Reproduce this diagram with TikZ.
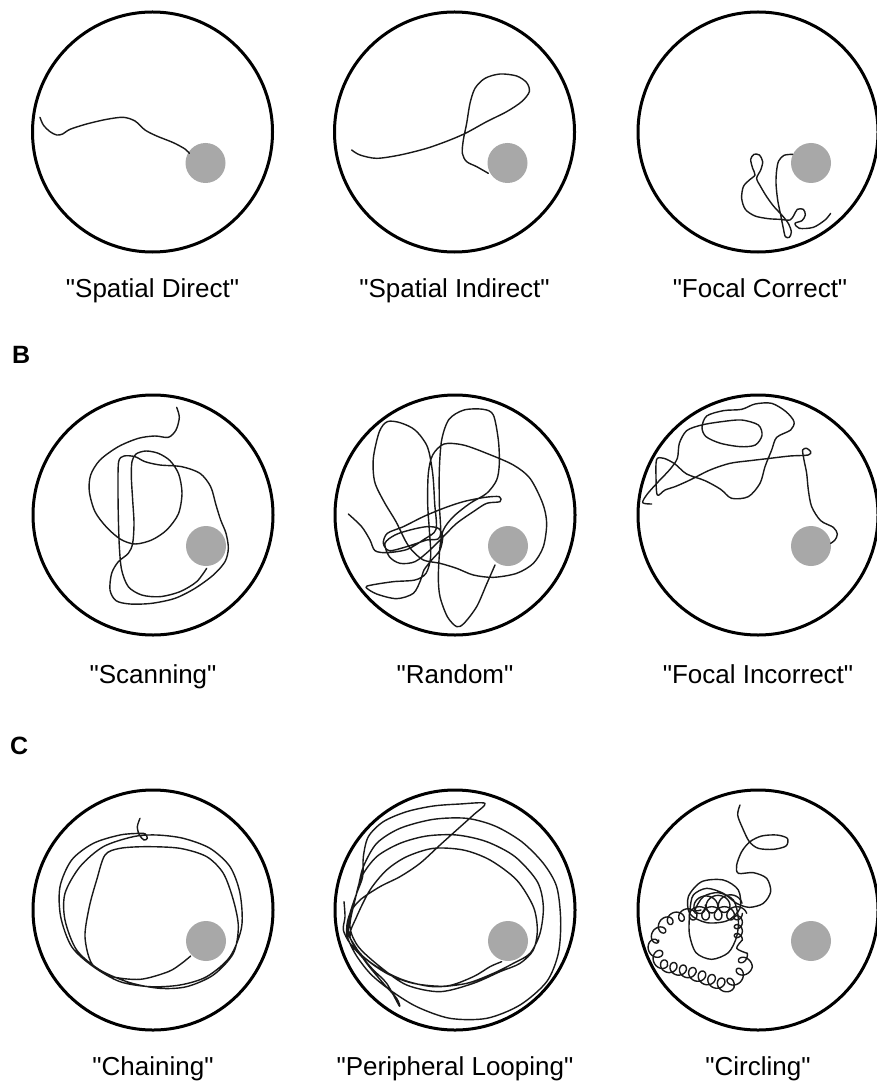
\documentclass[tikz,border=0pt]{standalone}
\usepackage{fontspec}
\newfontfamily\labfont{Liberation Sans}
\definecolor{goalgray}{RGB}{168,168,168}
\tikzset{
  arena/.style={draw=black,line width=3pt},
  goal/.style={fill=goalgray,draw=none},
  track/.style={draw=black!90,line width=1.4pt,line join=round,line cap=round},
  lab/.style={anchor=base,inner sep=0pt,font=\labfont\fontsize{26}{30}\selectfont},
  panel/.style={anchor=base west,inner sep=0pt,font=\labfont\fontsize{25}{30}\selectfont\bfseries}
}
\newcommand\loopchain[6]{\draw[track] plot[smooth,samples=81,domain=0:1,variable=\s] ({#1+(#3-#1)*\s+#6*cos(360*#5*\s)},{#2+(#4-#2)*\s+#6*sin(360*#5*\s)});}
\begin{document}
\begin{tikzpicture}[x=1pt,y=-1pt]
\useasboundingbox[fill=white] (0,0) rectangle (876,1083);

% arenas and goals
\foreach \cx/\cy in {152.5/132,454.5/132,758/132,153/515,455/515,758/515,153/910,455/910,758/910}{
  \draw[arena] (\cx,\cy) circle[radius=120pt];
  \fill[goal] (\cx+53,\cy+31) circle[radius=20pt];
}

% labels
\node[lab] (l1) at (152.5,297) {"Spatial Direct"};
\node[lab] (l2) at (454.5,297) {"Spatial Indirect"};
\node[lab] (l3) at (760,297) {"Focal Correct"};
\node[lab] (l4) at (153,683) {"Scanning"};
\node[lab] (l5) at (455,683) {"Random"};
\node[lab] (l6) at (758,683) {"Focal Incorrect"};
\node[lab] (l7) at (153,1075) {"Chaining"};
\node[lab] (l8) at (455,1075) {"Peripheral Looping"};
\node[lab] (l9) at (758,1075) {"Circling"};
\node[panel] (pB) at (12,363) {B};
\node[panel] (pC) at (10,754) {C};

% 1 Spatial Direct
\begin{scope}[shift={(0,0)},scale=1/3]
\draw[track] plot[smooth] coordinates {(120,352) (130,375) (150,395) (170,405) (188,402) (210,388) (260,372) (320,358) (370,352) (405,363) (435,390) (470,408) (520,428) (555,447) (568,460)};
\end{scope}

% 2 Spatial Indirect
\begin{scope}[shift={(300,0)},scale=1/3]
\draw[track] plot[smooth] coordinates {(155,450) (180,465) (230,475) (300,465) (380,445) (450,420) (500,398) (560,365) (620,335) (665,305) (688,275) (680,248) (650,228) (600,222) (555,235) (525,265) (510,310) (500,370) (490,420) (487,460) (500,485) (530,500) (565,520)};
\end{scope}

% 3 Focal Correct
\begin{scope}[shift={(590,0)},scale=1/3]
\draw[track] plot[smooth] coordinates {(608,463) (582,466) (566,483) (560,510) (558,550) (563,600) (572,645) (580,685) (586,710) (598,712) (604,696) (596,672) (578,648) (552,620) (530,590) (512,560) (500,535) (512,510) (518,485) (508,465) (492,463) (482,478) (488,505) (495,525) (478,540) (460,560) (455,595) (466,628) (495,648) (535,656) (568,658) (600,660) (612,645) (622,628) (640,628) (646,645) (636,662) (615,670) (628,685) (670,682) (705,660) (722,640)};
\end{scope}

% 4 Scanning
\begin{scope}[shift={(0,330)},scale=1/3]
\draw[track] plot[smooth] coordinates {(530,232) (538,262) (528,300) (505,322) (465,318) (415,325) (355,350) (300,390) (272,435) (268,485) (285,545) (320,592) (362,628) (405,642) (455,630) (500,600) (535,552) (546,490) (536,432) (510,392) (475,370) (438,363) (408,372) (396,395) (394,440) (398,510) (402,580) (398,640) (385,670) (355,695) (335,730) (330,780) (348,812) (390,822) (455,820) (525,805) (585,775) (640,735) (675,695) (685,655) (678,610) (662,570) (648,525) (632,470) (600,430) (545,410) (480,405) (435,395) (405,380) (372,378) (356,395) (354,470) (355,560) (358,650) (365,720) (385,770) (425,795) (480,800) (540,785) (590,755) (620,715)};
\end{scope}

% 5 Random
\begin{scope}[shift={(300,330)},scale=1/3]
\draw[track] plot[smooth] coordinates {(145,552) (185,590) (210,630) (225,662) (262,668) (322,658) (372,628) (408,598) (404,520) (398,430) (382,350) (345,300) (300,278) (262,275) (238,305) (220,385) (224,455) (252,515) (288,575) (315,630) (335,660) (370,690) (420,700) (470,715) (520,735) (580,742) (650,730) (700,700) (730,650) (740,580) (728,520) (690,445) (640,405) (565,372) (490,345) (432,342) (398,375) (385,430) (383,520) (388,600) (392,680) (378,730) (345,750) (280,755) (215,765) (198,772) (230,792) (290,806) (340,790) (362,750) (372,720) (395,690) (420,660) (428,620) (415,595) (380,590) (330,600) (285,615) (255,640) (268,680) (300,700) (345,695) (390,660) (430,620) (470,580) (520,545) (560,520) (600,515) (598,500) (555,502) (490,515) (430,535) (370,560) (310,590) (262,610) (250,640) (268,662) (320,650) (380,630) (420,620) (418,520) (418,420) (425,330) (447,268) (492,240) (550,238) (580,255) (595,330) (598,400) (590,450) (560,490) (510,520) (460,560) (430,600) (420,650) (415,740) (420,800) (442,860) (470,890) (492,880) (530,830) (560,762) (585,705)};
\end{scope}

% 6 Focal Incorrect
\begin{scope}[shift={(590,330)},scale=1/3]
\draw[track] plot[smooth] coordinates {(185,522) (158,518) (172,492) (205,455) (240,418) (262,385) (268,340) (290,302) (335,285) (395,275) (455,270) (505,285) (516,316) (496,345) (452,350) (392,340) (348,320) (336,292) (350,258) (400,242) (455,238) (495,222) (545,220) (588,245) (612,275) (602,300) (560,322) (545,360) (525,410) (510,460) (475,500) (425,505) (392,478) (345,452) (290,432) (255,402) (222,385) (200,388) (198,440) (202,495) (225,480) (255,470) (300,450) (360,420) (420,400) (480,392) (540,385) (600,378) (655,375) (662,365) (650,355) (638,360) (642,390) (650,430) (655,480) (665,530) (692,572) (730,592) (742,612) (735,630) (722,640)};
\end{scope}

% 7 Chaining
\begin{scope}[shift={(0,700)},scale=1/3]
\draw[track] plot[smooth] coordinates {(420,355) (412,380) (418,405) (432,420) (442,415) (436,402) (420,400) (360,405) (280,430) (215,480) (180,560) (182,650) (215,740) (280,800) (360,845) (450,860) (540,855) (620,830) (690,770) (725,680) (720,580) (690,500) (630,445) (550,415) (470,405) (400,410) (310,440) (240,500) (195,580) (195,660) (230,750) (300,810) (390,848) (480,865) (560,860) (640,825) (700,760) (715,680) (700,600) (670,520) (620,470) (540,445) (440,440) (360,445) (315,465) (290,540) (268,620) (255,710) (275,790) (330,828) (420,838) (505,815) (545,790) (572,768)};
\end{scope}

% 8 Peripheral Looping
\begin{scope}[shift={(300,700)},scale=1/3]
\draw[track] plot[smooth] coordinates {(132,605) (135,650) (130,690) (150,730) (185,770) (220,810) (260,850) (298,918) (290,895) (250,850) (200,790) (160,730) (140,690) (150,640) (180,600) (240,560) (300,530) (360,490) (420,435) (470,390) (520,345) (555,310) (480,312) (400,318) (320,335) (250,365) (205,410) (190,470) (188,530) (170,580) (150,640) (140,700) (165,760) (210,820) (270,870) (350,920) (450,955) (560,955) (660,915) (740,845) (775,760) (782,660) (770,560) (730,490) (665,425) (585,378) (500,355) (400,358) (300,385) (230,430) (190,500) (175,560) (160,620) (145,690) (170,750) (230,800) (310,840) (400,860) (500,850) (580,820) (640,790) (690,760) (720,700) (730,620) (712,545) (645,470) (560,425) (470,405) (380,408) (300,430) (230,470) (185,530) (165,600) (150,680) (175,740) (240,800) (320,855) (420,875) (520,850) (600,815) (660,790) (700,750) (712,690) (700,620) (650,540) (570,480) (490,450) (400,445) (320,470) (260,510) (210,570) (170,650) (150,710) (190,770) (260,820) (340,850) (440,858) (520,830) (570,800) (605,785)};
\end{scope}

% 9 Circling
\begin{scope}[shift={(590,700)},scale=1/3]
\draw[track] plot[smooth] coordinates {(450,315) (443,345) (458,385) (478,425) (505,445) (550,448) (588,438) (592,415) (560,405) (515,408) (480,425) (455,455) (440,495) (445,520) (490,518) (530,535) (542,575) (520,610) (478,622) (440,610) (400,580) (350,565) (310,585) (300,630) (298,700) (318,758) (365,778) (415,758) (440,710) (445,655) (430,600) (385,578) (340,590) (315,630) (333,630)};
\draw[track] plot[smooth cycle] coordinates {(295,590) (335,545) (400,540) (445,570) (450,625) (412,662) (350,668) (300,642)};
\loopchain{320}{615}{430}{610}{3}{26}
\loopchain{300}{640}{450}{640}{4}{20}
\loopchain{445}{640}{445}{720}{3}{12}
\draw[track] plot[smooth] coordinates {(457,720) (440,745) (472,760)};
\loopchain{455}{760}{470}{800}{1}{17}
\loopchain{470}{800}{415}{860}{2}{17}
\loopchain{415}{860}{300}{818}{4}{18}
\loopchain{300}{818}{215}{795}{3}{17}
\loopchain{215}{795}{185}{728}{2}{18}
\loopchain{190}{720}{232}{660}{2}{16}
\loopchain{232}{660}{300}{640}{2}{16}
\end{scope}
\end{tikzpicture}
\end{document}
